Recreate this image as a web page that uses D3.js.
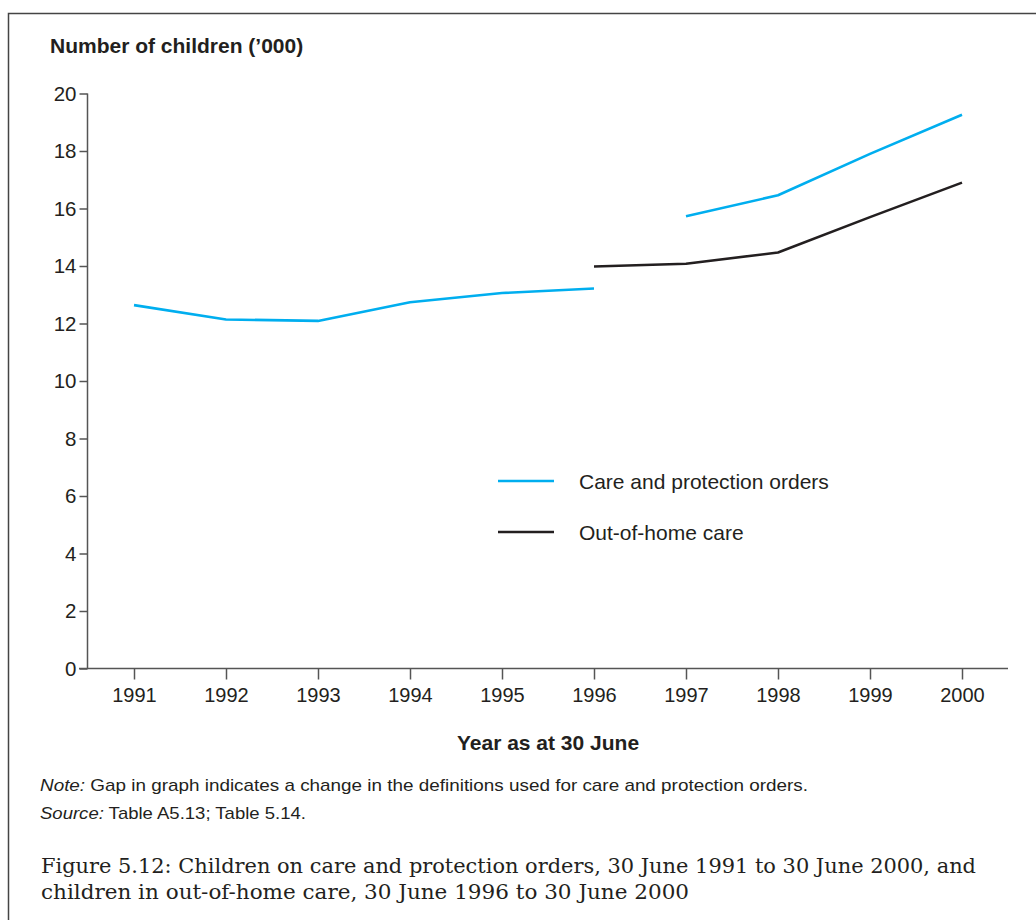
<!DOCTYPE html>
<html>
<head>
<meta charset="utf-8">
<script src="https://cdn.jsdelivr.net/npm/d3@7"></script>
<style>
  html, body { margin: 0; padding: 0; background: #fff; }
  svg { display: block; }
</style>
</head>
<body>
<svg id="chart" width="1036" height="920"></svg>
<script>
// ---- data ----
const years = [1991, 1992, 1993, 1994, 1995, 1996, 1997, 1998, 1999, 2000];
const careYearsA = [1991, 1992, 1993, 1994, 1995, 1996];
const careValuesA = [12.64, 12.14, 12.09, 12.74, 13.06, 13.22];
const careYearsB = [1997, 1998, 1999, 2000];
const careValuesB = [15.73, 16.46, 17.9, 19.26];
const oohYears = [1996, 1997, 1998, 1999, 2000];
const oohValues = [13.98, 14.08, 14.47, 15.7, 16.9];
const yTicks = [0, 2, 4, 6, 8, 10, 12, 14, 16, 18, 20];
const seriesNames = ["Care and protection orders", "Out-of-home care"];
const seriesColors = ["#00aeef", "#231f20"];

const svg = d3.select("#chart");
const textColor = "#231f20";
const axisColor = "#555";
const sans = "'Liberation Sans', Arial, sans-serif";

// frame (top and left)
svg.append("path").attr("d", "M8.5,1036 V13.5 H1036")
  .attr("fill", "none").attr("stroke", "#444").attr("stroke-width", 1.5);

const x = d3.scalePoint().domain(years).range([88, 1008]).padding(0.5);
const y = d3.scaleLinear().domain([0, 20]).range([668.5, 93.5]);

// y axis
const yAxis = svg.append("g").attr("transform", "translate(87.5,0)")
  .call(d3.axisLeft(y).tickValues(yTicks).tickSize(8).tickPadding(3).tickSizeOuter(0));
yAxis.attr("font-size", null).attr("font-family", null);
yAxis.select(".domain").remove();
yAxis.append("line").attr("x1", 0).attr("x2", 0).attr("y1", y(20)).attr("y2", y(0));
yAxis.selectAll("line").attr("stroke", axisColor).attr("stroke-width", 1.5);
yAxis.selectAll("text").attr("fill", textColor)
  .style("font-family", sans).style("font-size", "20.5px");

// x axis
const xAxis = svg.append("g").attr("transform", "translate(0,668.5)")
  .call(d3.axisBottom(x).tickSize(11).tickPadding(8).tickSizeOuter(0));
xAxis.attr("font-size", null).attr("font-family", null);
xAxis.select(".domain").remove();
xAxis.append("line").attr("x1", 79).attr("x2", 1008).attr("y1", 0).attr("y2", 0);
xAxis.selectAll("line").attr("stroke", axisColor).attr("stroke-width", 1.5);
xAxis.selectAll("text").attr("fill", textColor)
  .style("font-family", sans).style("font-size", "20px");

// lines
const line = d3.line().x(d => x(d[0])).y(d => y(d[1]));
const drawSeries = (xs, vs, color) => {
  svg.append("path").datum(xs.map((yr, i) => [yr, vs[i]]))
    .attr("d", line).attr("fill", "none").attr("stroke", color)
    .attr("stroke-width", 2.6).attr("stroke-linejoin", "round");
};
drawSeries(careYearsA, careValuesA, seriesColors[0]);
drawSeries(careYearsB, careValuesB, seriesColors[0]);
drawSeries(oohYears, oohValues, seriesColors[1]);

// legend
const legend = svg.append("g").attr("transform", "translate(498,481)");
seriesNames.forEach((name, i) => {
  const g = legend.append("g").attr("transform", `translate(0,${i * 51})`);
  g.append("line").attr("x1", 0).attr("x2", 56).attr("y1", 0).attr("y2", 0)
    .attr("stroke", seriesColors[i]).attr("stroke-width", 2.6);
  g.append("text").attr("x", 81).attr("y", 7.5).text(name).attr("fill", textColor)
    .style("font-family", sans).style("font-size", "21px");
});

// axis titles
svg.append("text").attr("x", 50).attr("y", 53).text("Number of children (’000)")
  .attr("fill", textColor).style("font-family", sans)
  .style("font-size", "21px").style("font-weight", "bold");
svg.append("text").attr("x", 548).attr("y", 750).attr("text-anchor", "middle").text("Year as at 30 June")
  .attr("fill", textColor).style("font-family", sans)
  .style("font-size", "21px").style("font-weight", "bold");

// note and source
const note = svg.append("text").attr("x", 40).attr("y", 791).attr("fill", textColor)
  .style("font-family", sans).style("font-size", "17px")
  .attr("textLength", 768).attr("lengthAdjust", "spacingAndGlyphs");
note.append("tspan").style("font-style", "italic").text("Note:");
note.append("tspan").text(" Gap in graph indicates a change in the definitions used for care and protection orders.");
const src = svg.append("text").attr("x", 40).attr("y", 819).attr("fill", textColor)
  .style("font-family", sans).style("font-size", "17px")
  .attr("textLength", 266).attr("lengthAdjust", "spacingAndGlyphs");
src.append("tspan").style("font-style", "italic").text("Source:");
src.append("tspan").text(" Table A5.13; Table 5.14.");

// caption
const capLines = [
  "Figure 5.12: Children on care and protection orders, 30 June 1991 to 30 June 2000, and",
  "children in out-of-home care, 30 June 1996 to 30 June 2000"
];
const capWidths = [935, 648];
capLines.forEach((t, i) => {
  svg.append("text").attr("x", 41).attr("y", 873 + i * 26).text(t).attr("fill", textColor)
    .style("font-family", "'DejaVu Serif', 'Liberation Serif', serif").style("font-size", "21px")
    .attr("textLength", capWidths[i]).attr("lengthAdjust", "spacingAndGlyphs");
});
</script>
</body>
</html>
